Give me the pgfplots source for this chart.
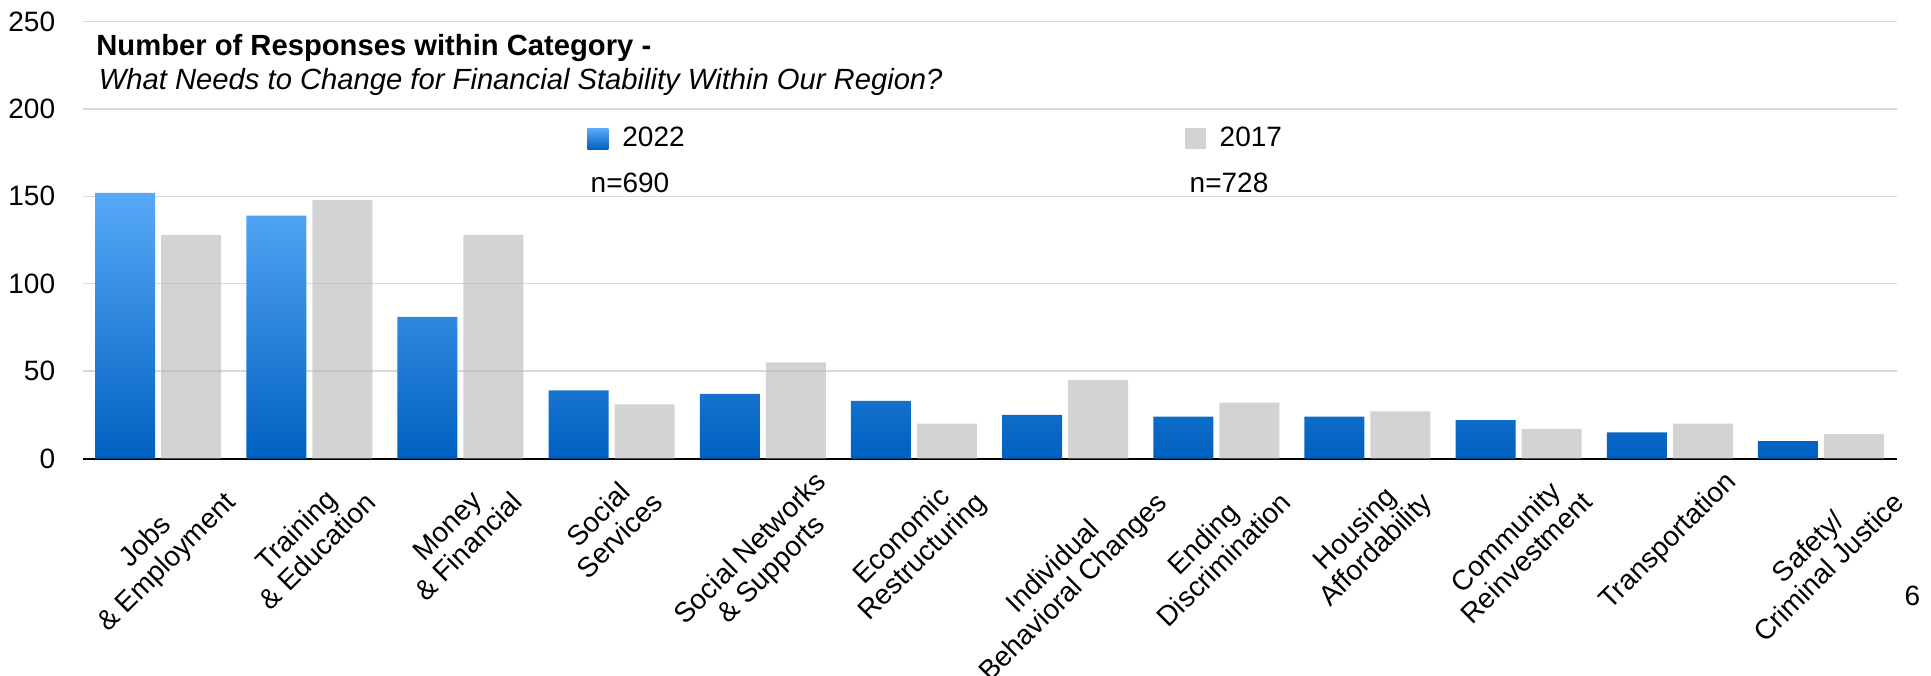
\documentclass[border=0pt]{standalone}
\usepackage{pgfplots}
\pgfplotsset{compat=1.18}
\usepackage{fontspec}
\setmainfont{Liberation Sans}
\usepackage{graphicx}
\definecolor{blueTop}{RGB}{88,170,247}
\definecolor{blueBot}{RGB}{0,96,192}
\definecolor{barGray}{RGB}{211,211,211}
\definecolor{barGrayT}{RGB}{185,185,185}
\definecolor{gridGray}{RGB}{217,217,217}
\newcommand\lbl[1]{\rotatebox{45}{\begin{tabular}{@{}c@{}}#1\end{tabular}}}
\begin{document}
\fontsize{14}{14.7}\selectfont
\begin{tikzpicture}
\begin{axis}[
  scale only axis, width=907pt, height=218.5pt,
  xmin=-0.5, xmax=11.5, ymin=0, ymax=250,
  ytick={0,50,...,250},
  xtick={0,...,11},
  xticklabels={
    {\lbl{Jobs\\\& Employment}},
    {\lbl{Training\\\& Education}},
    {\lbl{Money\\\& Financial}},
    {\lbl{Social\\Services}},
    {\lbl{Social Networks\\\& Supports}},
    {\lbl{Economic\\Restructuring}},
    {\lbl{Individual\\Behavioral Changes}},
    {\lbl{Ending\\Discrimination}},
    {\lbl{Housing\\Affordability}},
    {\lbl{Community\\Reinvestment}},
    {\lbl{Transportation}},
    {\lbl{Safety/\\Criminal Justice}}},
  ybar=3pt, bar width=30pt,
  axis x line*=bottom, axis y line*=left,
  y axis line style={draw=none},
  x axis line style={-, black, line width=1pt},
  major tick length=0pt,
  ymajorgrids, grid style={gridGray, line width=0.65pt},
  /pgf/number format/assume math mode=true,
  yticklabel style={anchor=east, inner sep=0pt, xshift=-13.5pt},
  xticklabel style={anchor=north, inner sep=0pt, yshift=-5pt},
  clip=false,
  legend columns=2,
  legend cell align=left,
  legend style={at={(rel axis cs:0.27812,0.73158)}, anchor=west, draw=none, fill=none,
    inner sep=0pt, nodes={inner sep=0pt},
    /tikz/every odd column/.append style={column sep=7pt},
    /tikz/every even column/.append style={column sep=250pt}},
]
\addplot[draw=none, top color=blueTop, bottom color=blueBot,
  legend image code/.code={\path[top color=blueTop, bottom color=blueBot] (0pt,-5.25pt) rectangle (10.5pt,5.25pt);}]
  coordinates {(0,152) (1,139) (2,81) (3,39) (4,37) (5,33) (6,25) (7,24) (8,24) (9,22) (10,15) (11,10)};
\addlegendentry{2022}
\addplot[draw=none, fill=barGrayT, fill opacity=0.63,
  legend image code/.code={\path[fill=barGray, fill opacity=1, opacity=1] (0pt,-5.25pt) rectangle (10.5pt,5.25pt);}]
  coordinates {(0,128) (1,148) (2,128) (3,31) (4,55) (5,20) (6,45) (7,32) (8,27) (9,17) (10,20) (11,14)};
\addlegendentry{2017}
\node[anchor=base west, inner sep=0pt, font=\bfseries\fontsize{14.6}{16}\selectfont] at (rel axis cs:0.007442,0.92288) {Number of Responses within Category -};
\node[anchor=base west, inner sep=0pt, font=\itshape\fontsize{14.6}{16}\selectfont] at (rel axis cs:0.00882,0.84371) {What Needs to Change for Financial Stability Within Our Region?};
\node[anchor=base, inner sep=0pt] at (rel axis cs:0.30182,0.60801) {n=690};
\node[anchor=base, inner sep=0pt] at (rel axis cs:0.63203,0.60801) {n=728};
\node[anchor=base, inner sep=0pt] at (rel axis cs:1.00882,-0.33707) {6};
\end{axis}
\pgfresetboundingbox
\useasboundingbox (-41.25pt,-108.65pt) rectangle (924.25pt,229.25pt);
\end{tikzpicture}
\end{document}
